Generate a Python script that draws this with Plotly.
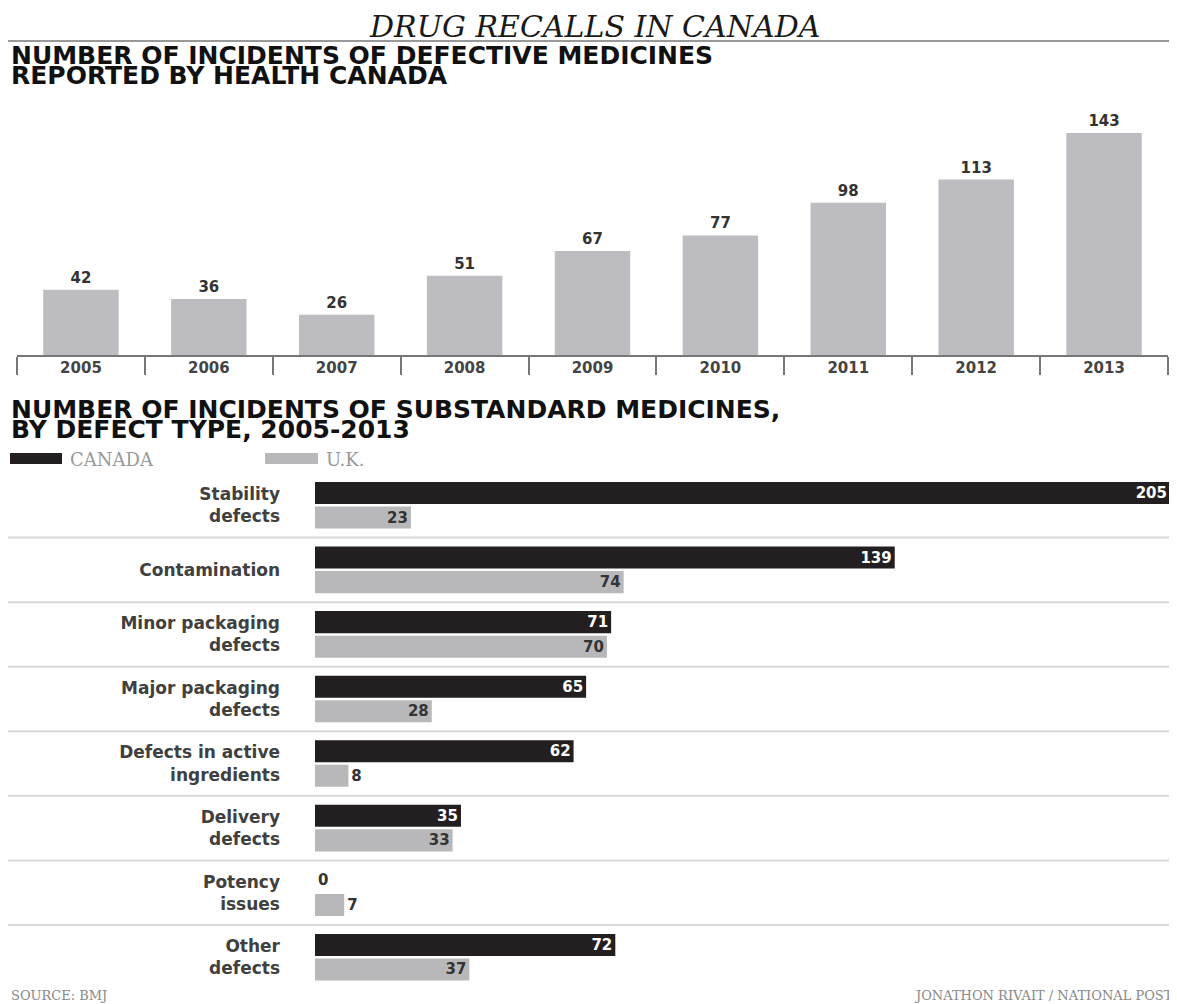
import plotly.graph_objects as go

# ---------------- data ----------------
years = ["2005", "2006", "2007", "2008", "2009", "2010", "2011", "2012", "2013"]
incidents = [42, 36, 26, 51, 67, 77, 98, 113, 143]

defect_types = [
    "Stability<br>defects",
    "Contamination",
    "Minor packaging<br>defects",
    "Major packaging<br>defects",
    "Defects in active<br>ingredients",
    "Delivery<br>defects",
    "Potency<br>issues",
    "Other<br>defects",
]
canada = [205, 139, 71, 65, 62, 35, 0, 72]
uk = [23, 74, 70, 28, 8, 33, 7, 37]

# ---------------- geometry helpers ----------------
# The page body has an 8px margin, so the figure is drawn at (8, 8).
PAGE_W, PAGE_H = 1177, 1004
OFF = 8
W, H = PAGE_W - OFF, PAGE_H - OFF


def fx(p):
    return (p - OFF) / W


def fy(p):
    return 1 - (p - OFF) / H


SANS = "DejaVu Sans"
SERIF = "DejaVu Serif"


def pos_for(vals, limit=15):
    return ["inside" if v >= limit else "outside" for v in vals]


fig = go.Figure()

# top chart: yearly incidents
fig.add_trace(go.Bar(
    x=years, y=incidents, xaxis="x", yaxis="y",
    marker=dict(color="#bdbdc1", line=dict(width=0)),
    width=0.59, offset=-0.295,
    text=incidents, textposition="outside", textangle=0,
    texttemplate="<b>%{y}</b>",
    textfont=dict(family=SANS, size=15, color="#333333"),
    cliponaxis=False, hoverinfo="skip", showlegend=False,
))

# bottom chart: defect types
fig.add_trace(go.Bar(
    y=defect_types, x=canada, orientation="h", xaxis="x2", yaxis="y2",
    name="CANADA",
    marker=dict(color="#231f20", line=dict(width=0)),
    text=canada, textposition=pos_for(canada), insidetextanchor="end",
    textangle=0, constraintext="none",
    insidetextfont=dict(family=SANS, size=15, color="white"),
    outsidetextfont=dict(family=SANS, size=15, color="#333333"),
    texttemplate="<b>%{x}</b>",
    cliponaxis=False, hoverinfo="skip", showlegend=False,
))
fig.add_trace(go.Bar(
    y=defect_types, x=uk, orientation="h", xaxis="x2", yaxis="y2",
    name="U.K.",
    marker=dict(color="#b8b8bb", line=dict(width=0)),
    text=uk, textposition=pos_for(uk), insidetextanchor="end",
    textangle=0, constraintext="none",
    insidetextfont=dict(family=SANS, size=15, color="#333333"),
    outsidetextfont=dict(family=SANS, size=15, color="#333333"),
    texttemplate="<b>%{x}</b>",
    cliponaxis=False, hoverinfo="skip", showlegend=False,
))

# row separators (between categories)
shapes = []
for i in range(len(defect_types) - 1):
    shapes.append(dict(type="line", xref="paper", yref="y2",
                       x0=0, x1=1, y0=i + 0.5, y1=i + 0.5,
                       line=dict(color="#d9d9d9", width=2)))
# rule under the title
shapes.append(dict(type="line", xref="paper", yref="paper",
                   x0=0, x1=1, y0=fy(41), y1=fy(41),
                   line=dict(color="#999999", width=2)))
# legend swatches
shapes.append(dict(type="rect", xref="paper", yref="paper",
                   x0=fx(10), x1=fx(62), y0=fy(464), y1=fy(453),
                   fillcolor="#231f20", line=dict(width=0)))
shapes.append(dict(type="rect", xref="paper", yref="paper",
                   x0=fx(265), x1=fx(318), y0=fy(464), y1=fy(453),
                   fillcolor="#b8b8bb", line=dict(width=0)))


def ann(text, x, y, size, family, color, xanchor="left"):
    return dict(text=text, x=fx(x), y=fy(y), xref="paper", yref="paper",
                xanchor=xanchor, yanchor="middle", showarrow=False,
                font=dict(family=family, size=size, color=color))


annotations = [
    ann("<i>DRUG RECALLS IN CANADA</i>", 594, 26.5, 30, SERIF, "#1a1a1a", "center"),
    ann("<b>NUMBER OF INCIDENTS OF DEFECTIVE MEDICINES</b>", 9, 55, 25, SANS, "#111111"),
    ann("<b>REPORTED BY HEALTH CANADA</b>", 9, 76, 25, SANS, "#111111"),
    ann("<b>NUMBER OF INCIDENTS OF SUBSTANDARD MEDICINES,</b>", 9, 409, 25, SANS, "#111111"),
    ann("<b>BY DEFECT TYPE, 2005-2013</b>", 9, 430, 25, SANS, "#111111"),
    ann("CANADA", 68, 459, 18, SERIF, "#999999"),
    ann("U.K.", 324, 459, 18, SERIF, "#999999"),
    ann("SOURCE: BMJ", 9, 995, 13, SERIF, "#888888"),
    ann("JONATHON RIVAIT / NATIONAL POST", 1175, 995, 13, SERIF, "#888888", "right"),
]

PX_PER_UNIT = 1.5524
TOP_MAX = 150

fig.update_layout(
    width=W, height=H,
    margin=dict(l=0, r=0, t=0, b=0, pad=0),
    paper_bgcolor="white", plot_bgcolor="white",
    barmode="group", bargap=0.24, bargroupgap=0.1,
    shapes=shapes, annotations=annotations,
    xaxis=dict(
        domain=[fx(17), fx(1168)], anchor="y", type="category",
        categoryorder="array", categoryarray=years, range=[-0.5, 8.5],
        showline=True, linecolor="#777777", linewidth=1.5,
        ticks="outside", tickson="boundaries", ticklen=18,
        tickcolor="#777777", tickwidth=1.5,
        tickfont=dict(family=SANS, size=15, color="#444444"),
        ticklabelstandoff=-2,
        tickprefix="<b>", ticksuffix="</b>",
        showgrid=False, zeroline=False, fixedrange=True,
    ),
    yaxis=dict(
        domain=[fy(355), fy(355 - TOP_MAX * PX_PER_UNIT)], anchor="x",
        range=[0, TOP_MAX], visible=False, fixedrange=True,
    ),
    xaxis2=dict(
        domain=[fx(315), fx(1170)], anchor="y2", range=[0, 205],
        visible=False, fixedrange=True,
    ),
    yaxis2=dict(
        domain=[fy(989.5), fy(473)], anchor="x2", type="category",
        categoryorder="array", categoryarray=defect_types, range=[7.5, -0.5],
        showline=False, ticks="", showgrid=False, zeroline=False,
        tickfont=dict(family=SANS, size=17, color="#404040"),
        tickprefix="<b>", ticksuffix="</b>",
        ticklabelstandoff=34, fixedrange=True,
    ),
)

fig.write_html("out.html")
